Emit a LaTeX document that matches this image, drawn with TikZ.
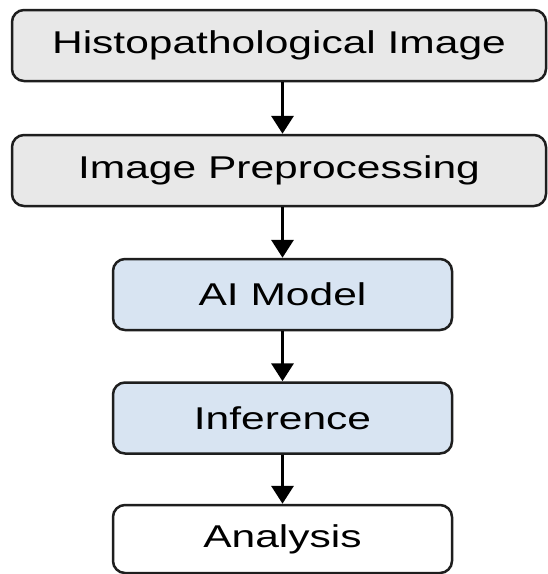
\documentclass[tikz,border=0pt]{standalone}
\usepackage{fontspec}
\usepackage{graphicx}
\setmainfont{Liberation Sans}
\usetikzlibrary{arrows.meta}
\definecolor{boxgray}{HTML}{E8E8E8}
\definecolor{boxblue}{HTML}{D8E4F2}
\definecolor{edge}{HTML}{1E1E1E}
\newcommand{\wtext}[1]{\scalebox{1.35}[1]{#1}}
\tikzset{
  stage/.style={draw=edge, line width=2.5pt, rounded corners=12pt, rectangle,
    font=\fontsize{31.5}{36}\selectfont, text=black, inner sep=0pt},
  wide/.style={stage, fill=boxgray, minimum width=534pt, minimum height=71pt},
  narrowblue/.style={stage, fill=boxblue, minimum width=339pt, minimum height=71pt},
  narrowwhite/.style={stage, fill=white, minimum width=339pt, minimum height=68pt},
  flow/.style={draw=black, line width=3.5pt, -{Triangle[length=18pt,width=22pt]}}
}
\begin{document}
\begin{tikzpicture}[x=1pt,y=-1pt]
\useasboundingbox (0,0) rectangle (548,574);
\fill[white] (0,0) rectangle (548,574);
\node[wide] (b1) at (279,45.5) {\wtext{Histopathological Image}};
\node[wide] (b2) at (279,170.5) {\wtext{Image Preprocessing}};
\node[narrowblue] (b3) at (282.5,294.5) {\wtext{AI Model}};
\node[narrowblue] (b4) at (282.5,418) {\wtext{Inference}};
\node[narrowwhite] (b5) at (282.5,539) {\wtext{Analysis}};
\draw[flow] (b1.south -| b3.center) -- (b2.north -| b3.center);
\draw[flow] (b2.south -| b3.center) -- (b3.north);
\draw[flow] (b3.south) -- (b4.north);
\draw[flow] (b4.south) -- (b5.north);
\end{tikzpicture}
\end{document}
